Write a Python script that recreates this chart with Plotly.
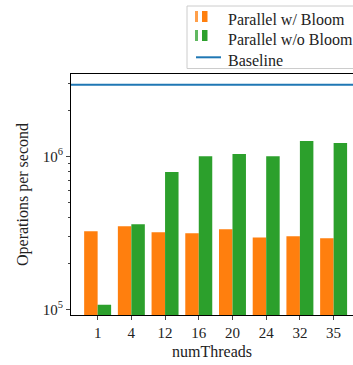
import plotly.graph_objects as go

threads = ["1", "4", "12", "16", "20", "24", "32", "35"]
with_bloom = [3.24e5, 3.49e5, 3.19e5, 3.14e5, 3.34e5, 2.95e5, 3.0e5, 2.91e5]
without_bloom = [1.07e5, 3.6e5, 7.89e5, 1.0e6, 1.035e6, 1.0e6, 1.26e6, 1.22e6]
baseline = 2.94e6

series_names = ["Parallel w/ Bloom", "Parallel w/o Bloom", "Baseline"]
colors = ["#ff7f0e", "#2ca02c", "#1f77b4"]

x_range = [-0.79, 7.575]
y_range_log = [4.963, 6.538]
major_ticks = [1e5, 1e6]
major_text = ["10<sup>5</sup>", "10<sup>6</sup>"]
minor_ticks = [k * 1e5 for k in range(2, 10)] + [2e6, 3e6]

FONT = "Liberation Serif"
TXT = "#222222"
W, H = 353, 365
ML, MT, MB = 71, 74, 50
PW, PH = W - ML, H - MT - MB


def px(xp):
    return (xp - ML) / PW


def py(yp):
    return (H - MB - yp) / PH


xs = list(range(len(threads)))

fig = go.Figure()
fig.add_trace(go.Bar(x=xs, y=with_bloom, name=series_names[0], showlegend=False,
                     marker=dict(color=colors[0], line=dict(width=0))))
fig.add_trace(go.Bar(x=xs, y=without_bloom, name=series_names[1], showlegend=False,
                     marker=dict(color=colors[1], line=dict(width=0))))
fig.add_trace(go.Scatter(x=[x_range[0] - 1, x_range[1] + 1], y=[baseline, baseline],
                         mode="lines", name=series_names[2], showlegend=False,
                         line=dict(color=colors[2], width=2)))

# legend (drawn manually to match the reference box)
shapes = [dict(type="rect", xref="paper", yref="paper",
               x0=px(187), x1=px(400), y0=py(68.5), y1=py(6),
               line=dict(color="#cccccc", width=1), fillcolor="white", layer="above")]
annotations = []
icon_rows = [(11, 22), (30, 41)]
text_rows = [19.5, 39.5, 60]
line_row = 57.3
for i in range(2):
    top, bot = icon_rows[i]
    shapes.append(dict(type="rect", xref="paper", yref="paper",
                       x0=px(195), x1=px(198), y0=py(bot), y1=py(top),
                       line=dict(width=0), fillcolor=colors[i], opacity=0.75, layer="above"))
    shapes.append(dict(type="rect", xref="paper", yref="paper",
                       x0=px(202), x1=px(207.5), y0=py(bot), y1=py(top),
                       line=dict(width=0), fillcolor=colors[i], layer="above"))
shapes.append(dict(type="line", xref="paper", yref="paper",
                   x0=px(196), x1=px(221), y0=py(line_row), y1=py(line_row),
                   line=dict(color=colors[2], width=2), layer="above"))
for i, name in enumerate(series_names):
    annotations.append(dict(xref="paper", yref="paper", x=px(226), y=py(text_rows[i]),
                            xanchor="left", yanchor="middle", text=name, showarrow=False,
                            font=dict(family=FONT, size=16, color=TXT)))

fig.update_layout(
    width=W, height=H,
    margin=dict(l=ML, r=0, t=MT, b=MB, autoexpand=False),
    paper_bgcolor="white", plot_bgcolor="white",
    barmode="group", bargap=0.2, bargroupgap=0,
    font=dict(family=FONT, size=15, color=TXT),
    showlegend=False,
    shapes=shapes, annotations=annotations,
)
fig.update_xaxes(
    range=x_range, tickmode="array", tickvals=xs, ticktext=threads,
    showline=True, linecolor="black", linewidth=1, mirror=True,
    ticks="outside", ticklen=4, tickwidth=1, tickcolor="#444",
    tickfont=dict(family=FONT, size=15, color=TXT),
    showgrid=False, zeroline=False,
    title=dict(text="numThreads", standoff=5, font=dict(family=FONT, size=16, color=TXT)),
)
fig.update_yaxes(
    type="log", range=y_range_log, tickmode="array",
    tickvals=major_ticks, ticktext=major_text,
    showline=True, linecolor="black", linewidth=1, mirror=False,
    ticks="outside", ticklen=4, tickwidth=1, tickcolor="#444",
    tickfont=dict(family=FONT, size=15, color=TXT),
    minor=dict(tickmode="array", tickvals=minor_ticks, ticks="outside", ticklen=2,
               tickwidth=1, tickcolor="#444", showgrid=False),
    showgrid=False, zeroline=False,
    title=dict(text="Operations per second", standoff=10,
               font=dict(family=FONT, size=16, color=TXT)),
)

fig.write_html("out.html")
